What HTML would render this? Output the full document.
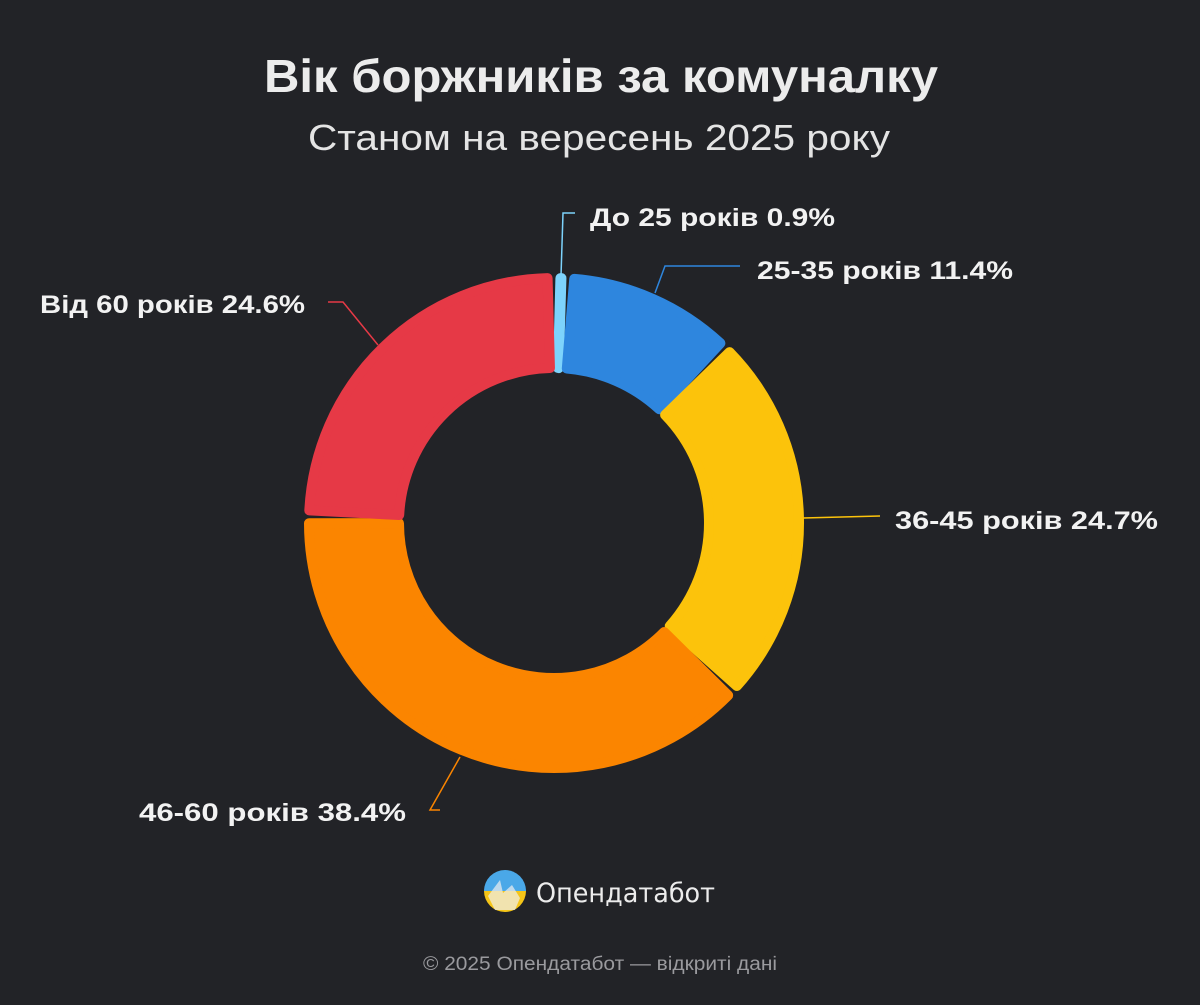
<!DOCTYPE html>
<html><head><meta charset="utf-8"><style>
body{margin:0;background:#222327;width:1200px;height:1000px;overflow:hidden;font-family:"Liberation Sans","DejaVu Sans",sans-serif;}
</style></head><body>
<svg id="s" width="1200" height="1000" xmlns="http://www.w3.org/2000/svg">
<rect width="1200" height="1000" fill="#222327"/>
<text x="264" y="92" textLength="674" lengthAdjust="spacingAndGlyphs" fill="#ececec" font-size="46" font-weight="bold" font-family="Liberation Sans, sans-serif">Вік боржників за комуналку</text>
<text x="308" y="150" textLength="582" lengthAdjust="spacingAndGlyphs" fill="#e4e4e4" font-size="36" font-family="Liberation Sans, sans-serif">Станом на вересень 2025 року</text>
<g id="d"></g>
<g fill="none" stroke-width="1.5">
<polyline points="561,276 563,213 575,213" stroke="#7dd3fc"/>
<polyline points="655,293 665,266 740,266" stroke="#2e86de"/>
<polyline points="803,518 880,516" stroke="#fcc30b"/>
<polyline points="460,757 430,810 440,810" stroke="#fb8500"/>
<polyline points="378,345 343,302 328,302" stroke="#e63946"/>
</g>
<g fill="#f2f2f2" font-size="25" font-weight="bold" font-family="Liberation Sans, sans-serif" lengthAdjust="spacingAndGlyphs">
<text x="590" y="226" textLength="245" lengthAdjust="spacingAndGlyphs">До 25 років 0.9%</text>
<text x="757" y="279" textLength="256" lengthAdjust="spacingAndGlyphs">25-35 років 11.4%</text>
<text x="895" y="529" textLength="263" lengthAdjust="spacingAndGlyphs">36-45 років 24.7%</text>
<text x="139" y="821" textLength="267" lengthAdjust="spacingAndGlyphs">46-60 років 38.4%</text>
<text x="40" y="313" textLength="265" lengthAdjust="spacingAndGlyphs">Від 60 років 24.6%</text>
</g>
<defs><linearGradient id="lg" x1="0" y1="0" x2="0" y2="1"><stop offset="0.5" stop-color="#4aa8e8"/><stop offset="0.5" stop-color="#f5c518"/></linearGradient></defs>
<circle cx="505" cy="891" r="21" fill="url(#lg)"/>
<path d="M488 896 L500 880 L503 893 L512 885 L520 898 L515 910 L495 910 Z" fill="#f0f0f0" opacity="0.7"/>
<text x="536" y="902" textLength="179" lengthAdjust="spacingAndGlyphs" fill="#ececec" font-size="27" font-family="DejaVu Sans, sans-serif">Опендатабот</text>
<text x="423" y="970" textLength="354" lengthAdjust="spacingAndGlyphs" fill="#9a9a9e" font-size="19" font-family="Liberation Sans, sans-serif">© 2025 Опендатабот — відкриті дані</text>
</svg>
<script>
var cx=554,cy=523,R=245,r=155,pad=1.5;
var data=[[0.9,"#7dd3fc"],[11.4,"#2e86de"],[24.7,"#fcc30b"],[38.4,"#fb8500"],[24.6,"#e63946"]];
function p(rad,a){a=a*Math.PI/180;return [cx+rad*Math.sin(a),cy-rad*Math.cos(a)];}
var g=document.getElementById("d"),acc=0,h="";
data.forEach(function(d){
 var a0=acc*3.6,a1=(acc+d[0])*3.6;acc+=d[0];
 var s=a0+pad,e=a1-pad;if(e<s){var m=(a0+a1)/2;s=m-0.01;e=m+0.01;}
 var lg=(e-s)>180?1:0;
 var A=p(R,s),B=p(R,e),C=p(r,e),D=p(r,s);
 h+='<path d="M'+A+' A'+R+','+R+' 0 '+lg+' 1 '+B+' L'+C+' A'+r+','+r+' 0 '+lg+' 0 '+D+' Z" fill="'+d[1]+'" stroke="'+d[1]+'" stroke-width="10" stroke-linejoin="round"/>';
});
g.innerHTML=h;
</script>
</body></html>
